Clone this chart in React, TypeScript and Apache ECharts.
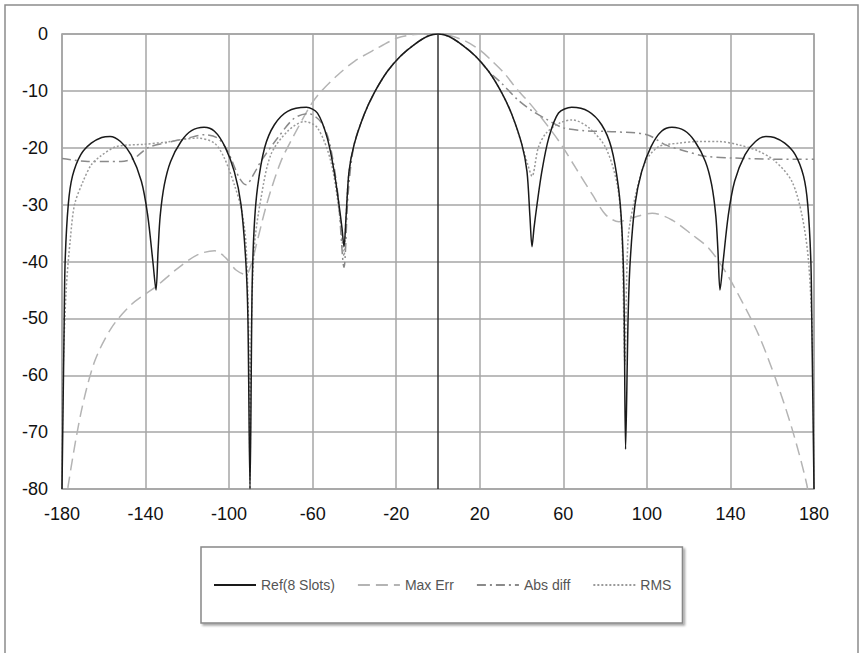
import React, { useEffect, useRef } from "react";
import * as echarts from "echarts";

// ---- Data (angle in degrees, level in dB) ----
const xTicks = [-180, -140, -100, -60, -20, 20, 60, 100, 140, 180];

const refAngles = [
  -180, -179, -178.5, -177, -175, -171, -166, -161, -157, -152, -147, -142, -139, -136.5, -135,
  -134, -133, -131, -128, -123, -118, -112, -107, -102, -97.5, -94.3, -92, -91, -90,
  -89, -88, -86.4, -83, -78.4, -72, -63, -57.7, -53, -49.7, -47.4, -46, -45,
  -44, -42.6, -40.2, -35.4, -30.6, -24.3, -18, -11.5, -5, 0,
  5, 11.5, 18, 24.3, 30.6, 35.4, 40.2, 42.6, 44, 45,
  46, 47.4, 49.7, 53, 57.7, 64, 72, 78.4, 83, 86.4, 88, 89, 89.8,
  91, 92, 94.3, 97.5, 102, 107, 112, 118, 123, 128, 131, 133, 134, 135,
  136.5, 139, 142, 147, 152, 157, 161, 166, 171, 175, 177, 178.5, 179, 180,
];
const refValues = [
  -80, -52, -40, -30, -25, -21.2, -19.2, -18.2, -18.0, -18.9, -21.2, -25.9, -31.8, -40, -45,
  -38, -32, -26.5, -22.4, -18.9, -17.0, -16.4, -17.1, -19.8, -24.2, -30, -40, -50, -80,
  -45, -34, -27, -20, -16, -13.6, -12.9, -13.9, -18.3, -24.2, -30, -34, -37.4,
  -32, -24.2, -19.5, -14.2, -10.4, -6.6, -3.9, -1.9, -0.4, 0,
  -0.4, -1.9, -3.9, -6.6, -10.4, -14.2, -19.5, -24.2, -32, -37.4,
  -34, -30, -24.2, -18.3, -13.9, -12.9, -13.6, -16, -20, -27, -34, -45, -73,
  -50, -40, -30, -24.2, -19.8, -17.1, -16.4, -17.0, -18.9, -22.4, -26.5, -32, -38, -45,
  -40, -31.8, -25.9, -21.2, -18.9, -18.0, -18.2, -19.2, -21.2, -25, -30, -40, -52, -80,
];

const maxErrAngles = [
  -178, -177, -170.8, -164.4, -156.4, -146.9, -135, -124.6, -115, -107, -101.5, -96.7, -92,
  -89, -87, -81.6, -75.2, -68.8, -60.8, -56, -48, -40, -30.6, -19.5, -11.5, -3, 0,
  6, 13.4, 20, 26, 32, 37.3, 43, 48.4, 58, 66, 74, 80.3, 86.6, 93, 102.5, 112, 121.7,
  129.7, 137.6, 145.5, 153.5, 161.5, 169.4, 176.6, 177.5,
];
const maxErrValues = [
  -83, -79.3, -66.4, -57.6, -51.7, -47.6, -44.4, -41.2, -38.8, -38.1, -39.4, -41.5, -42.3,
  -40, -37.1, -29.4, -22.4, -17.7, -12.4, -10.1, -7.2, -4.8, -2.8, -0.7, -0.1, 0, 0,
  -0.3, -1.3, -2.8, -4.8, -7.0, -9.5, -11.8, -14.2, -18.9, -23.6, -28.3, -31.8, -33, -32.3, -31.5, -32.7, -35.3,
  -37.7, -41.8, -47, -52.9, -60.5, -69.3, -79.3, -83,
];

const absDiffAngles = [
  -180, -167.6, -151.7, -145.3, -138.9, -131, -119.8, -111.8, -105.5, -100.7, -95.1, -91.9,
  -88, -84.8, -76.8, -68.8, -62, -56, -52, -48, -45, -43, -40.2, -35.4, -30.6, -24.3, -18, -11.5, -5, 0,
  5, 11.5, 18, 24.3, 30, 38, 45, 52, 60, 70, 85, 100, 109, 118.5, 128, 141, 160, 180,
];
const absDiffValues = [
  -21.9, -22.4, -22.4, -21.8, -20, -19.2, -18.3, -17.7, -18.3, -20.6, -25.3, -26.5,
  -24.5, -22.4, -18.3, -14.8, -14, -15.5, -19, -28, -41, -28, -19.5, -14.2, -10.4, -6.6, -3.9, -1.9, -0.4, 0,
  -0.4, -1.9, -3.9, -6.6, -8.5, -11.5, -13.5, -15, -16.5, -17, -17.2, -17.7, -19.5, -20.6, -21.5, -21.8, -22, -22,
];

const rmsAngles = [
  -180, -179.5, -178, -176, -174, -170, -166, -162, -154, -141, -130, -123, -115, -107, -102.3,
  -97.5, -94, -91.9, -90.5, -90, -89.5, -88, -84.8, -80, -72, -64, -57.7, -51.3, -47, -45,
  -44, -42.6, -40.2, -35.4, -30.6, -24.3, -18, -11.5, -5, 0,
  5, 11.5, 18, 24.3, 30.6, 35.4, 40.2, 43, 45, 48, 51.6, 58, 64.3, 72.3, 80.3, 85.8, 88, 89.5,
  91, 94.6, 99.4, 105.7, 115.3, 124.9, 134.4, 144, 153.5, 161.5, 169.4, 174.2, 177.4, 179.3, 180,
];
const rmsValues = [
  -80, -60, -45, -36, -30, -26, -23, -21.6, -19.8, -19.4, -19, -18.6, -18.3, -19.2, -21.8,
  -26.5, -31, -37, -55, -80, -55, -37.7, -29, -21.2, -17.1, -15.4, -16.5, -22.4, -32, -39,
  -32, -24.2, -19.5, -14.2, -10.4, -6.6, -3.9, -1.9, -0.4, 0,
  -0.4, -1.9, -3.9, -6.6, -10.4, -14.2, -19.5, -23, -25, -20, -17.5, -15.7, -15.1, -16.5, -20, -26.5, -35, -58,
  -36, -28.3, -22.4, -19.8, -19.2, -18.9, -18.9, -19.5, -20.6, -22.4, -25.9, -31.8, -40, -55, -80,
];

const zip = (xs: number[], ys: number[]) => xs.map((x, i) => [x, ys[i]]);

export default function App() {
  const ref = useRef<HTMLDivElement>(null);
  useEffect(() => {
    if (!ref.current) return;
    const chart = echarts.init(ref.current, undefined, { renderer: "svg" });
    const font = "Liberation Sans, Arial, sans-serif";
    const gray = "#a6a6a6";
    chart.setOption({
      animation: false,
      backgroundColor: "#ffffff",
      textStyle: { fontFamily: font },
      graphic: [
        {
          type: "rect",
          shape: { x: 5, y: 5, width: 853, height: 660 },
          style: { fill: "none", stroke: "#8c8c8c", lineWidth: 1.5 },
          z: -10,
          silent: true,
        },
      ],
      grid: {
        left: 62,
        top: 34,
        right: 51,
        bottom: 164,
        show: true,
        borderColor: "#999999",
        borderWidth: 1.5,
        containLabel: false,
      },
      legend: {
        left: 201,
        top: 547,
        orient: "horizontal",
        data: ["Ref(8 Slots)", "Max Err", "Abs diff", "RMS"],
        itemWidth: 42,
        itemHeight: 14,
        itemGap: 22,
        padding: [31, 11, 31, 12],
        borderColor: "#888888",
        borderWidth: 1.5,
        backgroundColor: "#ffffff",
        shadowColor: "rgba(0,0,0,0.35)",
        shadowBlur: 2,
        shadowOffsetX: 2,
        shadowOffsetY: 2,
        itemStyle: { opacity: 0 },
        textStyle: { fontSize: 14, color: "#555555", fontFamily: font },
      },
      xAxis: {
        type: "value",
        min: -180,
        max: 180,
        axisLine: { show: false },
        axisTick: { show: false, customValues: xTicks },
        axisLabel: {
          customValues: xTicks,
          fontSize: 18,
          color: "#111111",
          margin: 16,
          fontFamily: font,
        },
        splitLine: { show: true, customValues: xTicks, lineStyle: { color: gray, width: 1.5 } },
      },
      yAxis: {
        type: "value",
        min: -80,
        max: 0,
        interval: 10,
        position: "left",
        axisLine: { show: false },
        axisTick: { show: false },
        axisLabel: { fontSize: 18, color: "#111111", margin: 14, fontFamily: font },
        splitLine: { show: true, lineStyle: { color: gray, width: 1.5 } },
      },
      series: [
        {
          name: "Max Err",
          type: "line",
          data: zip(maxErrAngles, maxErrValues),
          symbol: "none",
          smooth: 0.3,
          clip: true,
          lineStyle: { color: "#b4b4b4", width: 1.5, type: [12, 6] },
          itemStyle: { color: "#b4b4b4" },
          z: 2,
        },
        {
          name: "Abs diff",
          type: "line",
          data: zip(absDiffAngles, absDiffValues),
          symbol: "none",
          smooth: 0.3,
          clip: true,
          lineStyle: { color: "#8a8a8a", width: 1.5, type: [9, 4, 2, 4] },
          itemStyle: { color: "#8a8a8a" },
          z: 2,
        },
        {
          name: "RMS",
          type: "line",
          data: zip(rmsAngles, rmsValues),
          symbol: "none",
          smooth: 0.3,
          clip: true,
          lineStyle: { color: "#9a9a9a", width: 1.5, type: [2, 2] },
          itemStyle: { color: "#9a9a9a" },
          z: 2,
        },
        {
          name: "Ref(8 Slots)",
          type: "line",
          data: zip(refAngles, refValues),
          symbol: "none",
          smooth: 0.3,
          clip: true,
          lineStyle: { color: "#1a1a1a", width: 1.5, type: "solid" },
          itemStyle: { color: "#1a1a1a" },
          z: 3,
          markLine: {
            silent: true,
            symbol: ["none", "none"],
            label: { show: false },
            lineStyle: { color: "#333333", width: 1.5, type: "solid" },
            data: [{ xAxis: 0 }],
          },
        },
      ],
    });
    return () => chart.dispose();
  }, []);
  return (
    <div
      ref={ref}
      style={{ position: "fixed", left: 0, top: 0, width: 865, height: 653, background: "#fff" }}
    />
  );
}
